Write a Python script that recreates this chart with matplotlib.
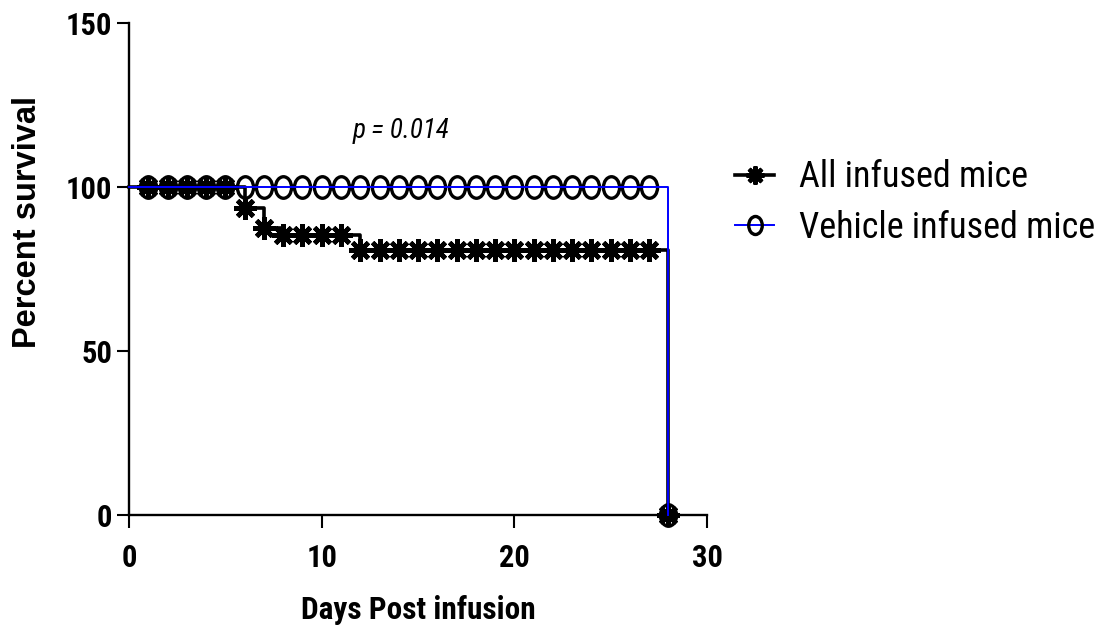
import matplotlib
matplotlib.use("Agg")
from matplotlib import pyplot as plt
from matplotlib.path import Path
from matplotlib.transforms import Affine2D
from matplotlib.lines import Line2D

# survival curves (step points)
step_days_all = [0, 6, 7, 8, 12, 28]
step_surv_all = [100, 93.75, 87.5, 85.3, 80.8, 0]
step_days_veh = [0, 28]
step_surv_veh = [100, 0]

# symbols drawn at each day
mark_days = [1, 2, 3, 4, 5, 6, 7, 8, 9, 10, 11, 12, 13, 14, 15, 16, 17, 18, 19, 20,
             21, 22, 23, 24, 25, 26, 27, 28]
mark_all = [100, 100, 100, 100, 100, 93.75, 87.5, 85.3, 85.3, 85.3, 85.3,
            80.8, 80.8, 80.8, 80.8, 80.8, 80.8, 80.8, 80.8, 80.8, 80.8, 80.8,
            80.8, 80.8, 80.8, 80.8, 80.8, 0]
mark_veh = [100, 100, 100, 100, 100, 100, 100, 100, 100, 100, 100, 100, 100, 100,
            100, 100, 100, 100, 100, 100, 100, 100, 100, 100, 100, 100, 100, 0]

labels = ['All infused mice', 'Vehicle infused mice']
x_ticks = [0, 10, 20, 30]
y_ticks = [0, 50, 100, 150]

narrow = ['Roboto Condensed', 'Fira Sans Condensed', 'Liberation Sans', 'DejaVu Sans']
plt.rcParams['font.family'] = narrow

# taller-than-wide open circle like the original
ellipse = Path.unit_circle().transformed(Affine2D().scale(0.75, 1.0))
star = (8, 2, 0)

fig = plt.figure(figsize=(11.03, 6.34), dpi=100)
ax = fig.add_axes([0.117, 0.1877, 0.524, 0.776])

ax.plot(step_days_all, step_surv_all, drawstyle='steps-post', color='black',
        lw=2.6, clip_on=False, zorder=3)
ax.plot(mark_days, mark_veh, ls='none', marker=ellipse, ms=15.5, mew=2.4,
        mfc='none', mec='black', clip_on=False, zorder=4)
ax.plot(mark_days, mark_all, ls='none', marker=star, ms=16, mew=3.4,
        color='black', clip_on=False, zorder=5)
ax.plot(step_days_veh, step_surv_veh, drawstyle='steps-post', color='#0000ff',
        lw=1.4, clip_on=False, zorder=6)

ax.set_xlim(0, 30)
ax.set_ylim(0, 150)
ax.set_xticks(x_ticks)
ax.set_yticks(y_ticks)
for s in ['top', 'right']:
    ax.spines[s].set_visible(False)
for s in ['left', 'bottom']:
    ax.spines[s].set_linewidth(1.7)
ax.tick_params(direction='out', length=9, width=1.5, labelsize=22, pad=3)
ax.tick_params(axis='x', pad=11)
for t in ax.get_xticklabels() + ax.get_yticklabels():
    t.set_fontweight('bold')

ax.set_xlabel('Days Post infusion', fontsize=22.5, fontweight='bold', labelpad=16)
# y title sits above the axis middle in the original
fig.text(28 / 1103, 1 - 222 / 634, 'Percent survival', rotation=90, fontsize=23.5,
         fontweight='bold', family=['Liberation Sans', 'DejaVu Sans'],
         ha='center', va='center')

ax.text(14.1, 117, 'p = 0.014', fontsize=19.5, style='italic', ha='center', va='center')

handles = [
    Line2D([], [], color='black', lw=2.6, marker=star, ms=13, mew=3),
    Line2D([], [], color='#0000ff', lw=1.4, marker=ellipse, ms=13, mew=2.4,
           mfc='none', mec='black'),
]
ax.legend(handles, labels, loc='upper left', bbox_to_anchor=(1.048, 0.723),
          frameon=False, fontsize=26, handlelength=1.1, handletextpad=0.68,
          labelspacing=0.4, borderaxespad=0, borderpad=0)

fig.savefig('out.png', dpi=100)
